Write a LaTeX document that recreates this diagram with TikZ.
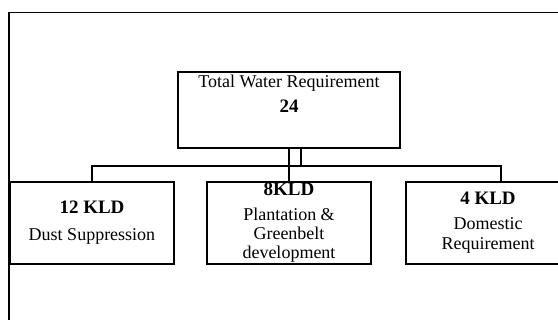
\documentclass[tikz,border=0pt]{standalone}
\usepackage{fontspec}
\setmainfont{Liberation Serif}
\usetikzlibrary{positioning}

\tikzset{
	frame/.style={line width=1.8pt},
	box/.style={draw, line width=1.6pt, align=center, inner sep=0pt, minimum width=164pt, minimum height=82pt},
	topbox/.style={box, minimum width=222pt, minimum height=76pt, text depth=33pt},
	link/.style={line width=1.3pt}
}

\begin{document}
\begin{tikzpicture}[x=1pt, y=-1pt, font=\fontsize{18}{19}\selectfont]
		%%%%% START %%%%%
		\useasboundingbox (0,0) rectangle (558,320);
		\clip (0,0) rectangle (558,320);
		
		\draw[frame] (9,340) -- (9,12.5) -- (580,12.5);
		
		\node[topbox] (total) at (289,110) {Total Water Requirement\\[6pt]{\fontsize{19}{19}\selectfont\textbf{24}}};
		
		\node[box] (dust) at (92,223) {{\fontsize{19}{19}\selectfont\textbf{12 KLD}}\\[8pt]Dust Suppression};
		\node[box] (green) at (289,223) {{\fontsize{19}{19}\selectfont\textbf{8KLD}}\\[6pt]Plantation \&\\Greenbelt\\development};
		\node[box] (domestic) at (488,223) {{\fontsize{19}{19}\selectfont\textbf{4 KLD}}\\[6pt]Domestic\\[1pt]Requirement};
		
		\coordinate (busR) at (501,166);
		\coordinate (busL) at (dust.north |- busR);
		
		\draw[link] (dust.north) -- (busL) -- (busR) -- (busR |- domestic.north);
		\draw[link] (total.south) -- (green.north);
		\draw[link] ([xshift=12pt]total.south) -- ([xshift=12pt]total.south |- busR);
		
		%%%%% END %%%%%
\end{tikzpicture}
\end{document}
